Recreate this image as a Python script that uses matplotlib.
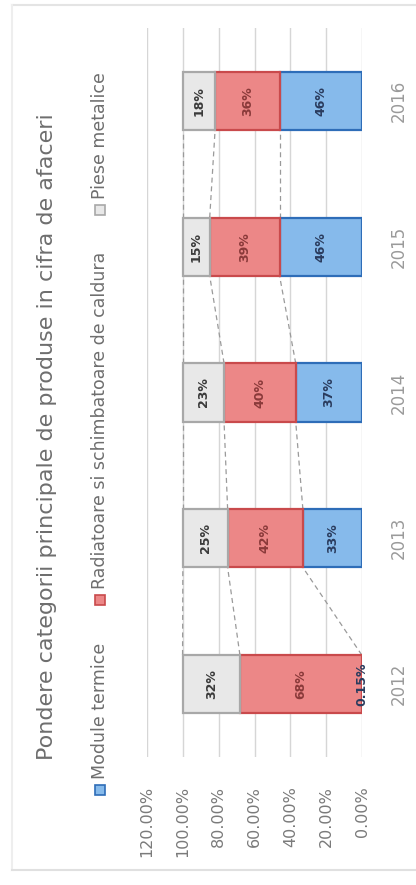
import matplotlib.pyplot as plt
import numpy as np
from matplotlib.patches import Rectangle
from matplotlib.ticker import FuncFormatter

years = ['2012', '2013', '2014', '2015', '2016']
module_termice = [0.15, 33, 37, 46, 46]
radiatoare = [68, 42, 40, 39, 36]
piese_metalice = [32, 25, 23, 15, 18]
labels_module = ['0.15%', '33%', '37%', '46%', '46%']
labels_radiatoare = ['68%', '42%', '40%', '39%', '36%']
labels_piese = ['32%', '25%', '23%', '15%', '18%']
series_names = ['Module termice', 'Radiatoare si schimbatoare de caldura', 'Piese metalice']
title = 'Pondere categorii principale de produse in cifra de afaceri'

plt.rcParams['font.family'] = ['DejaVu Sans']

W, H = 416, 885
fig = plt.figure(figsize=(W / 100, H / 100), dpi=100)

# chart is drawn rotated: value axis runs right->left, years bottom->top
ax = fig.add_axes([147 / W, 1 - 757 / H, (362 - 147) / W, (757 - 28) / H])

pos = np.arange(len(years))
bh = 0.4
fills = ['#86BAEB', '#EC8787', '#E8E8E8']
edges = ['#2E6DB8', '#C94A4C', '#A8A8A8']
txt_colors = ['#2A3C5E', '#8A3A3A', '#3A3A3A']

vals = [np.array(module_termice), np.array(radiatoare), np.array(piese_metalice)]
labs = [labels_module, labels_radiatoare, labels_piese]
left = np.zeros(len(years))
cums = []
for v, fc, ec, lb, tc in zip(vals, fills, edges, labs, txt_colors):
    ax.barh(pos, v, left=left, height=bh, color=fc, edgecolor=ec, linewidth=1.6, zorder=3)
    for i in range(len(years)):
        ax.text(left[i] + v[i] / 2, pos[i], lb[i], rotation=90, ha='center', va='center',
                fontsize=9, fontweight='bold', color=tc, zorder=4)
    left = left + v
    cums.append(left.copy())

# series lines between bars
for c in cums:
    for i in range(len(years) - 1):
        ax.plot([c[i], c[i + 1]], [pos[i] + bh / 2, pos[i + 1] - bh / 2],
                color='#9A9A9A', lw=0.9, ls=(0, (4, 3)), zorder=2)

ax.set_xlim(120, 0)
ax.set_ylim(-0.5, len(years) - 0.5)
ax.set_xticks(np.arange(0, 121, 20))
ax.xaxis.set_major_formatter(FuncFormatter(lambda x, p: '{:.2f}%'.format(x)))
ax.set_yticks(pos)
ax.set_yticklabels(years)
ax.yaxis.tick_right()
ax.tick_params(axis='x', length=0, pad=21, labelsize=11.5, labelcolor='#7A7A7A', labelrotation=90)
ax.tick_params(axis='y', length=0, pad=20, labelsize=12, labelcolor='#9A9A9A', labelrotation=90)
for lab in ax.get_yticklabels():
    lab.set_va('center')
ax.grid(axis='x', color='#D6D6D6', lw=1, zorder=0)
for s in ax.spines.values():
    s.set_visible(False)

fig.text(47 / W, 1 - 437 / H, title, rotation=90, ha='center', va='center',
         fontsize=16, color='#6E6E6E')

# legend (rotated)
leg_y = [790, 600, 210]
for name, fc, ec, y in zip(series_names, fills, edges, leg_y):
    fig.patches.append(Rectangle(((100 - 5) / W, 1 - (y + 5) / H), 10 / W, 10 / H,
                                 transform=fig.transFigure, facecolor=fc, edgecolor=ec, lw=1.2))
    fig.text(100 / W, 1 - (y - 11) / H, name, rotation=90, ha='center', va='bottom',
             fontsize=12.5, color='#6E6E6E')

# faint chart frame
fig.add_artist(plt.Line2D([12 / W, 1], [1 - 5 / H, 1 - 5 / H], transform=fig.transFigure,
                          color='#E4E4E4', lw=1.5))
fig.add_artist(plt.Line2D([12 / W, 12 / W], [1 - 5 / H, 1 - 870 / H], transform=fig.transFigure,
                          color='#EEEEEE', lw=1.5))
fig.add_artist(plt.Line2D([12 / W, 1], [1 - 870 / H, 1 - 870 / H], transform=fig.transFigure,
                          color='#E0E0E0', lw=1.5))

fig.savefig('out.png', dpi=100)
